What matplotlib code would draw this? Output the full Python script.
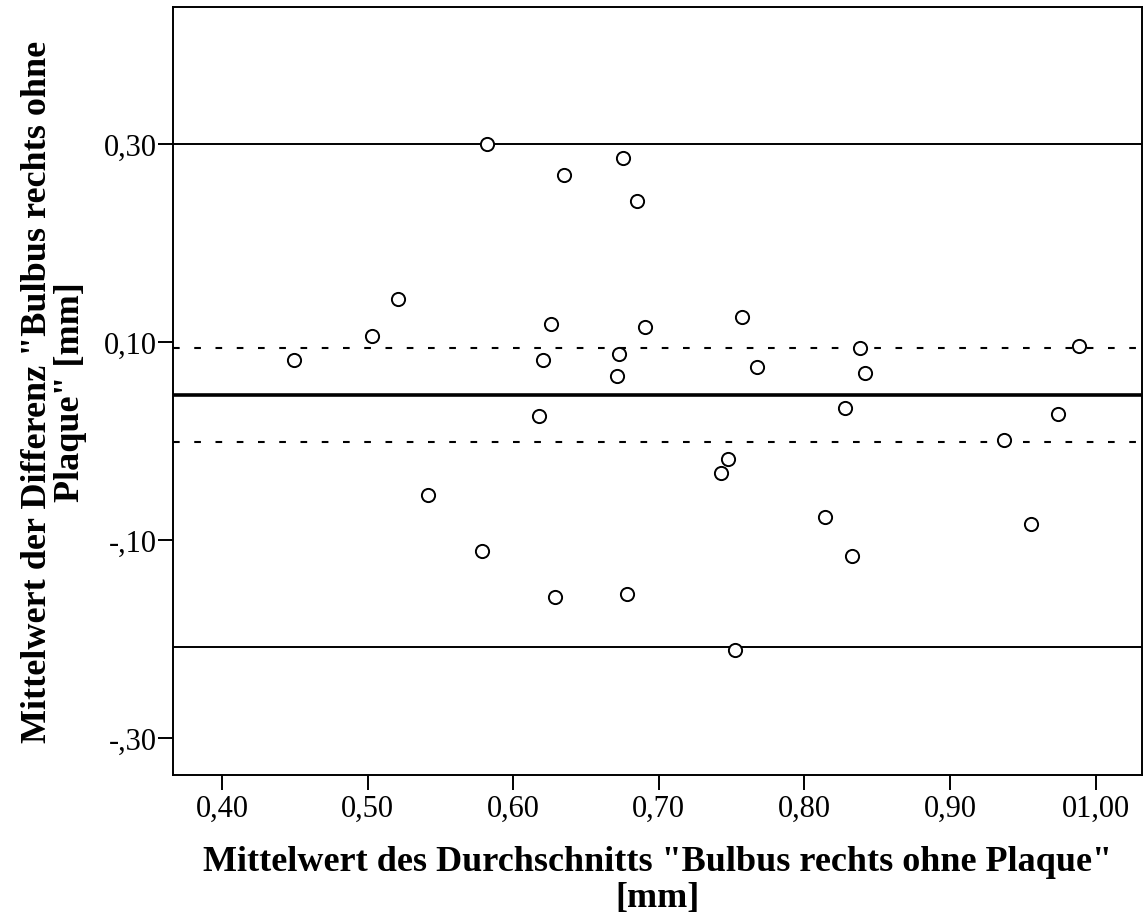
import matplotlib
matplotlib.use("Agg")
import matplotlib.pyplot as plt

plt.rcParams['font.family'] = ['Liberation Serif', 'DejaVu Serif']

# Data: mean of the two measurements (x) and their difference (y)
mean_vals = [0.5822, 0.6752, 0.6347, 0.6850, 0.5211, 0.6262, 0.6903, 0.5032,
             0.4492, 0.6203, 0.6729, 0.6715, 0.6177,
             0.7574, 0.7674, 0.8380, 0.8414, 0.8275, 0.9888, 0.9742, 0.9368,
             0.5417, 0.5786, 0.6289, 0.6784,
             0.7472, 0.7424, 0.8144, 0.9556, 0.8323, 0.7522]
diff_vals = [0.2998, 0.2856, 0.2689, 0.2419, 0.1438, 0.1178, 0.1152, 0.1061,
             0.0821, 0.0821, 0.0882, 0.0652, 0.0252,
             0.1249, 0.0750, 0.0942, 0.0690, 0.0333, 0.0963, 0.0272, 0.0005,
             -0.0551, -0.1110, -0.1578, -0.1548,
             -0.0180, -0.0329, -0.0766, -0.0837, -0.1164, -0.2114]

mean_diff = 0.0467
ci_upper = 0.0942
ci_lower = -0.0010
loa_upper = 0.3000
loa_lower = -0.2084

x_ticks = [0.40, 0.50, 0.60, 0.70, 0.80, 0.90, 1.00]
x_ticklabels = ["0,40", "0,50", "0,60", "0,70", "0,80", "0,90", "01,00"]
y_ticks = [0.30, 0.10, -0.10, -0.30]
y_ticklabels = ["0,30", "0,10", "-,10", "-,30"]

xlabel = 'Mittelwert des Durchschnitts "Bulbus rechts ohne Plaque"\n[mm]'
ylabel = 'Mittelwert der Differenz "Bulbus rechts ohne\nPlaque" [mm]'

fig = plt.figure(figsize=(11.45, 9.2), dpi=100)
ax = fig.add_axes([0.1511, 0.1568, 0.9971 - 0.1511, 0.991 - 0.1568])

ax.axhline(loa_upper, color='black', lw=1.4, zorder=1)
ax.axhline(loa_lower, color='black', lw=1.4, zorder=1)
ax.axhline(mean_diff, color='black', lw=2.6, zorder=1)
ax.axhline(ci_upper, color='black', lw=1.5, linestyle=(0, (3.2, 7)), zorder=1)
ax.axhline(ci_lower, color='black', lw=1.5, linestyle=(0, (3.2, 7)), zorder=1)

ax.plot(mean_vals, diff_vals, linestyle='none', marker='o', markersize=9.5,
        markerfacecolor='white', markeredgecolor='black', markeredgewidth=1.4, zorder=3)

ax.set_xlim(0.3663, 1.0316)
ax.set_ylim(-0.3376, 0.4382)

ax.set_xticks(x_ticks)
ax.set_xticklabels(x_ticklabels)
ax.set_yticks(y_ticks)
ax.set_yticklabels(y_ticklabels)

ax.tick_params(axis='both', direction='out', length=10.5, width=1.4,
               labelsize=22, color='black')
ax.tick_params(axis='y', pad=1)
ax.tick_params(axis='x', pad=3)

for sp in ax.spines.values():
    sp.set_linewidth(1.4)
    sp.set_color('black')

ax.set_xlabel(xlabel, fontsize=26, fontweight='bold', labelpad=16, linespacing=1.12)
ax.set_ylabel(ylabel, fontsize=26, fontweight='bold', labelpad=12, linespacing=1.0)

fig.savefig("out.png", dpi=100)
